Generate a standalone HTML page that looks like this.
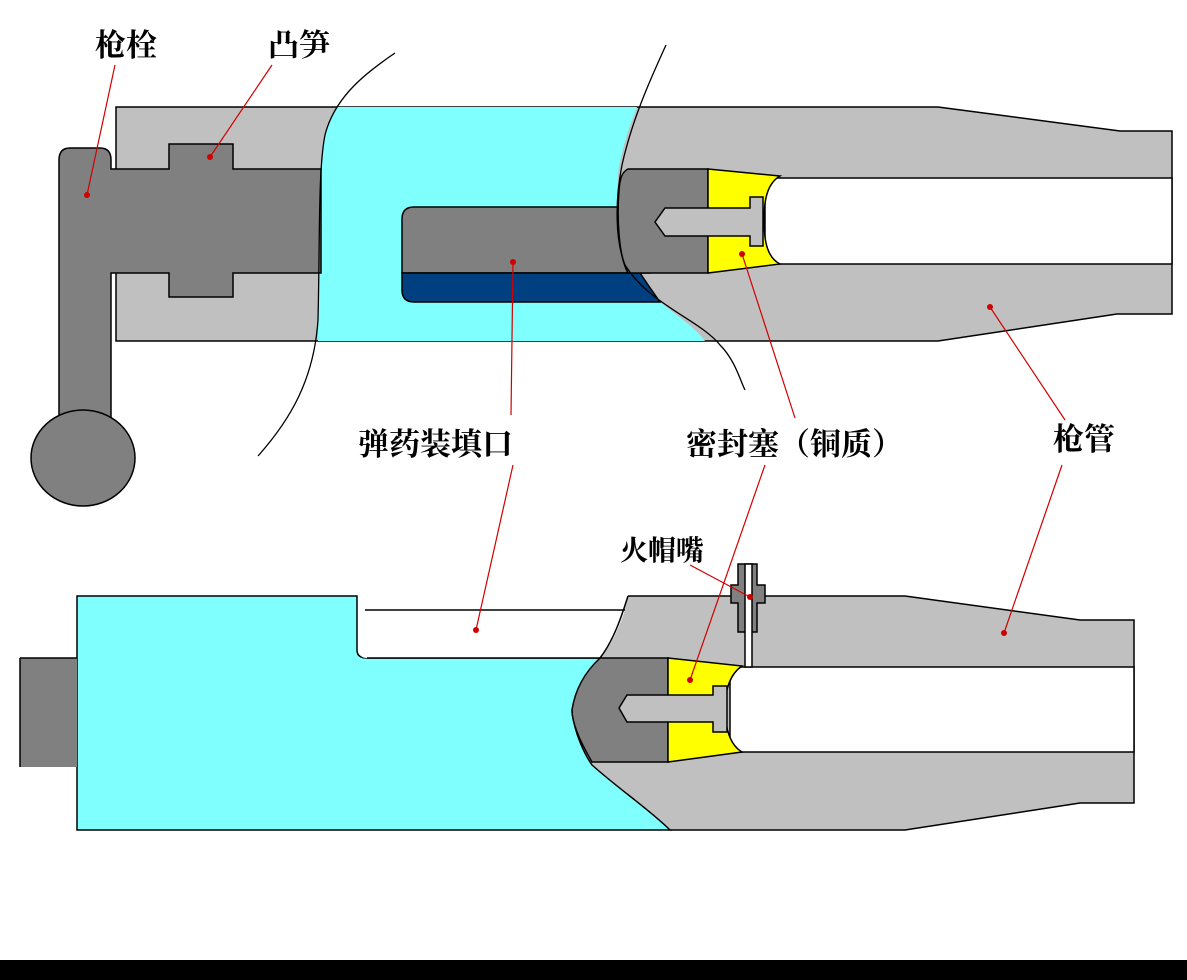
<!DOCTYPE html>
<html><head><meta charset="utf-8"><style>
html,body{margin:0;padding:0;background:#fff;}
svg{display:block;}
text{font-family:"Liberation Serif","Noto Serif CJK SC","Noto Sans CJK SC",serif;fill:#000;}
</style></head><body>
<svg width="1187" height="980" viewBox="0 0 1187 980" xmlns="http://www.w3.org/2000/svg">
<rect width="1187" height="980" fill="#fff"/>
<g stroke="#000" stroke-width="1.5">
<path d="M116 107 L938 107 L1120 131 L1172 131 L1172 314 L1117 314 L938 341 L116 341 Z" fill="#c0c0c0"/>
<path d="M338 107 L637 107 C628 130 620 155 618 175 C616 215 615 245 628 272 C650 300 690 320 705 341 L318 341 C318 280 320 200 322 150 C325 130 332 115 338 107 Z" fill="#80ffff" stroke="none"/>
<path d="M765 178 L1172 178 L1172 264 L765 264 Z" fill="#fff"/>
<path d="M70 148 L100 148 Q111 148 111 160 L111 169 L169 169 L169 144 L233 144 L233 169 L321 169 L321 273 L233 273 L233 297 L169 297 L169 273 L111 273 L111 420 L59 420 L59 160 Q59 148 70 148 Z" fill="#808080"/>
<ellipse cx="83" cy="458" rx="52" ry="48" fill="#808080"/>
<path d="M414 207 L650 207 L650 273 L402 273 L402 219 Q402 207 414 207 Z" fill="#808080"/>
<path d="M402 273 L640 273 C648 285 655 295 660 302 L414 302 Q402 302 402 290 Z" fill="#004080"/>
<path d="M628 169 L708 169 L708 273 L628 273 C618 255 617 215 619 190 C620 178 622 172 628 169 Z" fill="#808080"/>
<path d="M708 169 L780 176 C768 183 764 198 764 220 C764 243 768 258 780 264 L708 273 Z" fill="#ffff00"/>
<path d="M665 208 L750 208 L750 197 L763 197 L763 246 L750 246 L750 236 L665 236 L655 222 Z" fill="#c0c0c0"/>
<path d="M628 596 L905 596 L1080 620 L1134 620 L1134 803 L1080 803 L905 830 L670 830 L560 770 L560 660 L600 658 L612 640 L622 614 Z" fill="#c0c0c0" stroke="none"/>
<path d="M628 596 L905 596 L1080 620 L1134 620 L1134 803 L1080 803 L905 830 L670 830" fill="none"/>
<path d="M77 596 L357 596 L357 650 Q357 658 367 658 L600 658 C585 680 572 700 572 712 C575 735 585 755 592 765 C620 790 650 810 670 830 L77 830 Z" fill="#80ffff"/>
<path d="M365 610 L625 610 C620 625 612 645 600 658 L367 658 Q359 658 359 650 L359 605 Q360 610 365 610 Z" fill="#fff" stroke="none"/>
<line x1="365" y1="610" x2="625" y2="610"/>
<line x1="367" y1="658" x2="600" y2="658"/>
<path d="M628 596 C622 615 614 640 600 658" fill="none"/>
<path d="M730 667 L1134 667 L1134 752 L730 752 Z" fill="#fff"/>
<path d="M600 658 L668 658 L668 762 L592 762 C582 745 572 725 572 710 C575 690 585 672 600 658 Z" fill="#808080"/>
<path d="M668 658 L742 666 C730 674 725 690 725 708 C725 728 730 745 742 752 L668 762 Z" fill="#ffff00"/>
<path d="M627 695 L713 695 L713 686 L727 686 L727 732 L713 732 L713 722 L627 722 L619 708 Z" fill="#c0c0c0"/>
<rect x="20" y="658" width="57" height="109" fill="#808080" stroke="none"/>
<path d="M20 658 L77 658 M20 658 L20 767" fill="none"/>
<path d="M738 564 L757 564 L757 585 L765 585 L765 603 L757 603 L757 632 L738 632 L738 603 L731 603 L731 585 L738 585 Z" fill="#808080"/>
<rect x="745" y="564" width="7" height="103" fill="#fff"/>
</g>
<g fill="none" stroke="#000" stroke-width="1.3">
<path d="M395 53 C370 70 335 95 325 135 C318 170 320 240 318 320 C314 380 290 420 258 456"/>
<path d="M666 45 C650 80 632 120 622 165 C615 200 615 240 625 265 C650 305 700 320 720 345 C735 360 740 380 745 390"/>
</g>
<g stroke="#d00000" stroke-width="1.2" fill="none">
<line x1="115" y1="65" x2="87" y2="195"/>
<line x1="272" y1="65" x2="210" y2="157"/>
<line x1="511" y1="415" x2="513" y2="262"/>
<line x1="513" y1="465" x2="476" y2="630"/>
<line x1="795" y1="418" x2="742" y2="254"/>
<line x1="765" y1="465" x2="690" y2="680"/>
<line x1="1065" y1="420" x2="990" y2="307"/>
<line x1="1062" y1="465" x2="1004" y2="633"/>
<line x1="690" y1="565" x2="750" y2="597"/>
</g>
<g fill="#d00000">
<circle cx="87" cy="195" r="3"/><circle cx="210" cy="157" r="3"/><circle cx="513" cy="262" r="3"/>
<circle cx="476" cy="630" r="3"/><circle cx="742" cy="254" r="3"/><circle cx="690" cy="680" r="3"/>
<circle cx="990" cy="307" r="3"/><circle cx="1004" cy="633" r="3"/><circle cx="750" cy="597" r="3"/>
</g>
<g font-size="31" font-weight="bold">
<text x="95" y="56">枪栓</text>
<text x="268" y="56">凸笋</text>
<text x="358" y="455">弹药装填口</text>
<text x="686" y="455">密封塞（铜质）</text>
<text x="1053" y="450">枪管</text>
<text x="620" y="560" font-size="28">火帽嘴</text>
</g>
<rect x="0" y="960" width="1187" height="20" fill="#000"/>
</svg>
</body></html>
